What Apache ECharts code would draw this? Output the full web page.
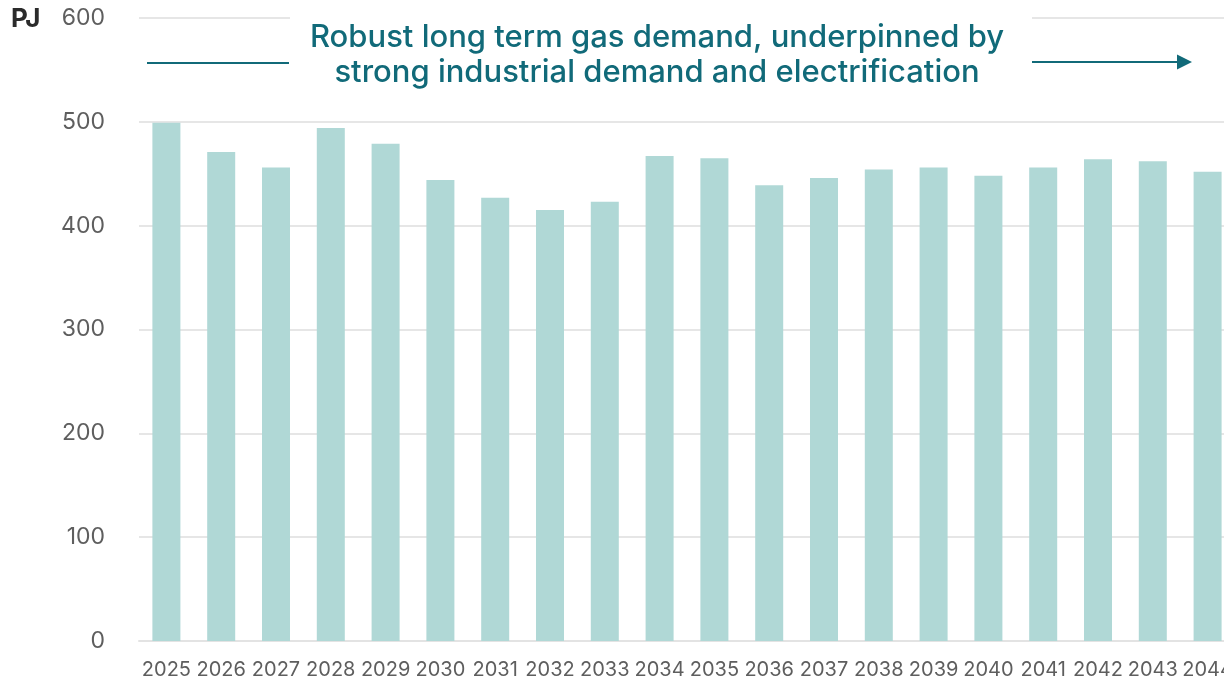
<!DOCTYPE html>
<html>
<head>
<meta charset="utf-8">
<script src="https://cdn.jsdelivr.net/npm/echarts@6/dist/echarts.min.js"></script>
<style>
  html, body { margin: 0; padding: 0; background: #fff; }
  #chart { width: 1224px; height: 683px; }
</style>
</head>
<body>
<div id="chart"></div>
<script>
// data
const years = ['2025', '2026', '2027', '2028', '2029', '2030', '2031', '2032', '2033', '2034',
  '2035', '2036', '2037', '2038', '2039', '2040', '2041', '2042', '2043', '2044']
const demand = [499, 471, 456, 494, 479, 444, 427, 415, 423, 467,
  465, 439, 446, 454, 456, 448, 456, 464, 462, 452]
const yTicks = { min: 0, max: 600, step: 100 }
const unitLabel = 'PJ'
const noteLines = ['Robust long term gas demand, underpinned by', 'strong industrial demand and electrification']

const teal = '#116a79'
const font = 'Inter, "Noto Sans", sans-serif'

const chart = echarts.init(document.getElementById('chart'))

const option = {
  backgroundColor: '#fff',
  animation: false,
  // plot runs a little past the right edge, last bar is clipped like the original
  grid: { left: 139, width: 1096, top: 18, bottom: 42, containLabel: false, outerBoundsMode: 'none' },
  xAxis: {
    type: 'category',
    data: years,
    axisLine: { lineStyle: { color: '#e3e3e3', width: 2 } },
    axisTick: { show: false },
    axisLabel: { color: '#5e5e5e', fontSize: 20, fontFamily: font, margin: 19, interval: 0 }
  },
  yAxis: {
    type: 'value',
    min: yTicks.min,
    max: yTicks.max,
    interval: yTicks.step,
    axisLine: { show: false },
    axisTick: { show: false },
    axisLabel: { color: '#5e5e5e', fontSize: 23, fontFamily: font, margin: 34 },
    splitLine: { lineStyle: { color: '#e6e6e6', width: 2 } }
  },
  series: [
    {
      type: 'bar',
      data: demand,
      barWidth: 28,
      itemStyle: { color: '#b0d8d6' }
    }
  ],
  graphic: [
    // white box behind the note, breaks the top gridline
    { type: 'rect', left: 290, top: 8, shape: { width: 742, height: 20 }, style: { fill: '#fff' }, z: 100 },
    {
      type: 'text', left: 11, top: 6, z: 101,
      style: { text: unitLabel, fill: '#2b2b2b', fontSize: 26, fontWeight: 'bold', fontFamily: font }
    },
    {
      type: 'text', x: 657, y: 55, z: 101,
      style: {
        text: noteLines.join('\n'),
        fill: teal,
        fontSize: 31,
        fontWeight: 500,
        fontFamily: font,
        align: 'center',
        verticalAlign: 'middle',
        lineHeight: 35
      }
    },
    {
      type: 'line', z: 101,
      shape: { x1: 147, y1: 63, x2: 289, y2: 63 },
      style: { stroke: teal, lineWidth: 2 }
    },
    {
      type: 'line', z: 101,
      shape: { x1: 1032, y1: 62, x2: 1180, y2: 62 },
      style: { stroke: teal, lineWidth: 2 }
    },
    {
      type: 'polygon', z: 101,
      shape: { points: [[1177, 54.5], [1192, 62], [1177, 69.5]] },
      style: { fill: teal }
    }
  ]
}

chart.setOption(option)
</script>
</body>
</html>
